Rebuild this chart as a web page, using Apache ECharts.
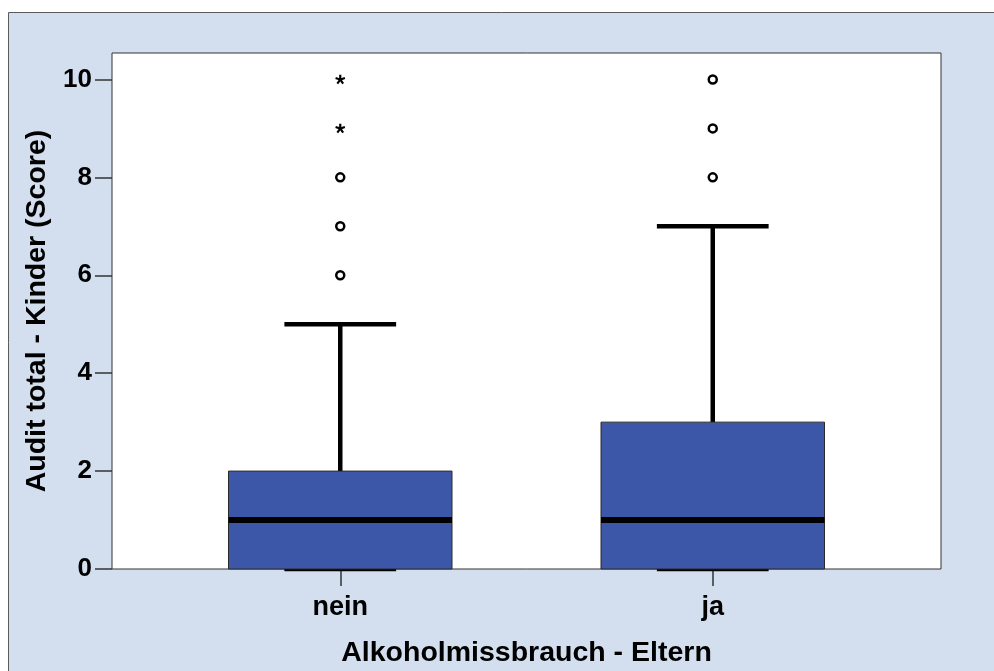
<!DOCTYPE html>
<html>
<head>
<meta charset="utf-8">
<script src="https://cdn.jsdelivr.net/npm/echarts@6/dist/echarts.min.js"></script>
<style>
  html, body { margin: 0; padding: 0; background: #ffffff; }
  #chart { width: 994px; height: 671px; }
</style>
</head>
<body>
<div id="chart"></div>
<script>
// Groups on the category axis
const categories = ['nein', 'ja'];
// Per group: [lower whisker, Q1, median, Q3, upper whisker]
const boxStats = [
  [0, 0, 1, 2, 5],
  [0, 0, 1, 3, 7]
];
// Outliers (circles) and extreme values (asterisks): [group index, score]
const outliers = [[0, 6], [0, 7], [0, 8], [1, 8], [1, 9], [1, 10]];
const extremes = [[0, 9], [0, 10]];
// Value axis
const yTicks = [0, 2, 4, 6, 8, 10];
const yMax = 10.54;

const FONT = '"Liberation Sans", Arial, sans-serif';
const tickText = { fontFamily: FONT, fontWeight: 'bold', fontSize: 26, color: '#000' };
const catText = { fontFamily: FONT, fontWeight: 'bold', fontSize: 27, color: '#000' };
const titleText = { fontFamily: FONT, fontWeight: 'bold', fontSize: 28.5, color: '#000' };

// Filled multi-arm asterisk as an SVG path symbol
function asteriskPath(arms, len, half) {
  let d = '';
  for (let k = 0; k < arms; k++) {
    const a = k * 2 * Math.PI / arms;
    const dx = Math.sin(a), dy = -Math.cos(a);
    const px = Math.cos(a), py = Math.sin(a);
    const sx = -dx * half, sy = -dy * half;
    const ex = dx * len, ey = dy * len;
    const pts = [
      [sx - px * half, sy - py * half],
      [sx + px * half, sy + py * half],
      [ex + px * half, ey + py * half],
      [ex - px * half, ey - py * half]
    ];
    d += 'M' + pts.map(p => p[0].toFixed(2) + ' ' + p[1].toFixed(2)).join('L') + 'Z';
  }
  return 'path://' + d;
}

function renderBox(params, api) {
  const cat = api.value(0);
  const lo = api.coord([cat, api.value(1)]);
  const q1 = api.coord([cat, api.value(2)]);
  const med = api.coord([cat, api.value(3)]);
  const q3 = api.coord([cat, api.value(4)]);
  const hi = api.coord([cat, api.value(5)]);
  const band = api.size([1, 0])[0];
  const bw = band * 0.6;
  const cw = band * 0.3;
  const x = q1[0];
  const ls = { stroke: '#000', lineWidth: 4.5, lineCap: 'butt' };
  return {
    type: 'group',
    children: [
      { type: 'line', shape: { x1: x, y1: hi[1], x2: x, y2: q3[1] }, style: ls },
      { type: 'line', shape: { x1: x, y1: lo[1], x2: x, y2: q1[1] }, style: ls },
      { type: 'line', shape: { x1: x - cw / 2, y1: hi[1], x2: x + cw / 2, y2: hi[1] }, style: ls },
      { type: 'line', shape: { x1: x - cw / 2, y1: lo[1], x2: x + cw / 2, y2: lo[1] }, style: ls },
      { type: 'rect', shape: { x: x - bw / 2, y: q3[1], width: bw, height: q1[1] - q3[1] },
        style: { fill: '#3d57a8', stroke: '#2b2b2b', lineWidth: 1 } },
      { type: 'line', shape: { x1: x - bw / 2, y1: med[1], x2: x + bw / 2, y2: med[1] },
        style: { stroke: '#000', lineWidth: 6, lineCap: 'butt' } }
    ]
  };
}

const chart = echarts.init(document.getElementById('chart'), null, { renderer: 'canvas' });

const tickLine = { color: '#333', width: 1.5 };

chart.setOption({
  animation: false,
  backgroundColor: '#ffffff',
  graphic: [{
    type: 'rect',
    z: -10,
    silent: true,
    shape: { x: 8.5, y: 12.5, width: 1000, height: 700 },
    style: { fill: '#d3dfee', stroke: '#5a5a5a', lineWidth: 1 }
  }],
  grid: [
    { left: 112, top: 53, right: 53, bottom: 102, show: true, outerBoundsMode: 'none',
      backgroundColor: '#ffffff', borderColor: '#333', borderWidth: 1 },
    { left: 154, top: 53, right: 95, bottom: 102, outerBoundsMode: 'none' }
  ],
  xAxis: [
    { gridIndex: 0, type: 'value', min: 0, max: 1, show: false },
    {
      gridIndex: 1, type: 'category', data: categories,
      axisLine: { show: false },
      axisTick: { show: true, alignWithLabel: true, length: 17, lineStyle: tickLine },
      axisLabel: Object.assign({ margin: 25 }, catText),
      splitLine: { show: false },
      name: 'Alkoholmissbrauch - Eltern',
      nameLocation: 'middle',
      nameGap: 70,
      nameTextStyle: titleText
    }
  ],
  yAxis: [
    {
      gridIndex: 0, type: 'value', min: 0, max: yMax,
      axisLine: { show: false },
      splitLine: { show: false },
      axisTick: { show: true, customValues: yTicks, length: 17, lineStyle: tickLine },
      axisLabel: Object.assign({ customValues: yTicks, margin: 20 }, tickText),
      name: 'Audit total - Kinder (Score)',
      nameLocation: 'middle',
      nameGap: 60,
      nameTextStyle: titleText
    },
    { gridIndex: 1, type: 'value', min: 0, max: yMax, show: false }
  ],
  series: [
    {
      type: 'custom',
      xAxisIndex: 1, yAxisIndex: 1,
      renderItem: renderBox,
      encode: { x: 0, y: [1, 2, 3, 4, 5] },
      data: boxStats.map((s, i) => [i].concat(s)),
      z: 2
    },
    {
      type: 'scatter',
      xAxisIndex: 1, yAxisIndex: 1,
      symbol: 'circle',
      symbolSize: 8,
      itemStyle: { color: '#fff', borderColor: '#000', borderWidth: 2.5, opacity: 1 },
      data: outliers,
      z: 3
    },
    {
      type: 'scatter',
      xAxisIndex: 1, yAxisIndex: 1,
      symbol: asteriskPath(5, 10, 2.2),
      symbolKeepAspect: true,
      symbolSize: 10,
      itemStyle: { color: '#000', opacity: 1 },
      data: extremes,
      z: 3
    }
  ]
});
</script>
</body>
</html>
